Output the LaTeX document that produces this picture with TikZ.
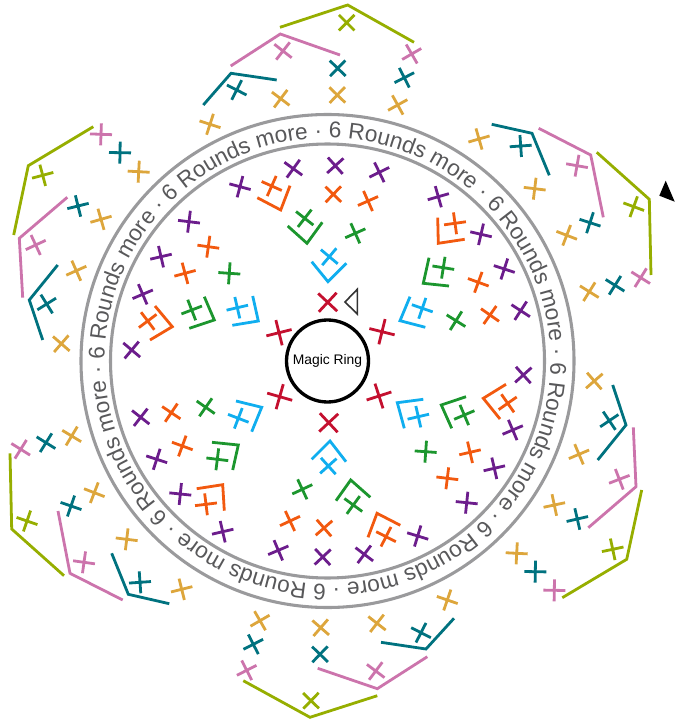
\documentclass[tikz,border=0pt]{standalone}
\usepackage{fontspec}
\usepackage{xcolor}
\usetikzlibrary{decorations.text}
\setmainfont{Liberation Sans}

\definecolor{cred}{HTML}{C4102F}
\definecolor{cblue}{HTML}{10AEEF}
\definecolor{cgreen}{HTML}{1C962E}
\definecolor{corange}{HTML}{F2590F}
\definecolor{cpurple}{HTML}{6C1D8C}
\definecolor{cgold}{HTML}{DDA63C}
\definecolor{cteal}{HTML}{00727F}
\definecolor{cpink}{HTML}{CC74AC}
\definecolor{clime}{HTML}{96AE00}
\definecolor{cring}{HTML}{9A9A9C}
\definecolor{ctext}{HTML}{58585A}

\tikzset{
  stitch/.style={line width=2.1pt},
  band/.style={line width=2.3pt, cring},
}

% x, y, angle of each cross
\newcommand{\crosses}[3]{%
  \foreach \x/\y/\a in {#3} {
    \draw[stitch,#1] (\x,\y) ++(\a:#2) -- ++(\a+180:2*#2)
      (\x,\y) ++(\a+90:#2) -- ++(\a-90:2*#2);
  }}
% corner lines
\newcommand{\corners}[2]{%
  \foreach \ax/\ay/\bx/\by/\cx/\cy in {#2} {
    \draw[stitch,#1] (\ax,\ay) -- (\bx,\by) -- (\cx,\cy);
  }}

\begin{document}
\begin{tikzpicture}[x=0.75pt,y=-0.75pt]
  \useasboundingbox (0,0) rectangle (680,720);

  \coordinate (C) at (327.5,361);
  \draw[band] (C) circle[radius=246.5];
  \draw[band] (C) circle[radius=217];
  \path[decorate, decoration={text along path, text color=ctext,
      text={|\fontsize{17pt}{20pt}\selectfont|6 Rounds more · 6 Rounds more · 6 Rounds more · 6 Rounds more · 6 Rounds more · 6 Rounds more · 6 Rounds more · 6 Rounds more · }}]
    (C) ++(-89.7:223) arc[start angle=-89.7, end angle=275, radius=223];

  \node[draw, circle, line width=2.5pt, minimum size=61.5pt, inner sep=0pt,
    font=\fontsize{10.4pt}{12pt}\selectfont] (ring) at (C) {Magic Ring};

  \draw[line width=1.2pt, black!80] (357.3,289.3) -- (345,302) -- (357.3,314) -- cycle;
  \fill (665.7,180.7) -- (659.3,195.7) -- (674.7,201.7) -- cycle;

  % round one
  \crosses{cred}{13}{327.7/302.3/43, 382/331.7/14, 379/396/-18,
    328.7/422.7/-43, 279.7/396.7/16, 279/332.7/-14}

  % round two
  \crosses{cblue}{11}{329.3/256.7/40, 422.3/308.3/19, 418.3/416.7/-13,
    328.3/466/-42, 238.3/418.3/21, 237.3/307.7/-13}
  \corners{cblue}{311.7/261.7/328/281.7/346.3/263.3,
    410/296.7/400/320.7/425.3/327.3,
    423.3/399.3/397.3/402.7/404.3/428.3,
    311.7/459.3/330/441/346/461.7,
    236/401/261.7/407.3/251.7/431.7,
    252.7/296/258.3/321/232.3/325.3}

  % round three
  \crosses{cgreen}{11}{304.7/218.3/38, 443.3/267.7/9, 464.3/415/-23,
    353.3/505/36, 217.3/459.3/7, 191.7/310/-21,
    355.3/233.3/-24, 456/320.7/32, 425.7/451.7/4,
    302.3/489.3/-25, 205.7/407.3/35, 229.3/273.3/4}
  \corners{cgreen}{287.7/226/307/243.3/322.3/222.3,
    429/257.7/423.3/283.3/449/286,
    466/396.7/441.3/405/451.7/428.3,
    336/500.7/350.7/480/370.3/497.3,
    212/442.3/238.3/445/232.7/470,
    204.3/296.7/214.3/320/189.3/328.3}

  % round four
  \crosses{corange}{11}{271.7/186/24, 455/223.3/-8, 507.7/403.3/-35,
    386/536.7/27, 206/504.3/-7, 147.7/321/-37,
    333.3/194.3/44, 368/201/-24, 478.3/282.3/20, 490/315/35,
    470/452.3/-13, 447.3/478.3/7, 290/521/-25, 324/528/-41,
    171.3/412.7/34, 182.3/446/20, 208.3/246.7/8, 185/273.3/-15}
  \corners{corange}{257.3/197.7/280.7/210/290/185.7,
    437.7/217.7/438.3/243.3/464.7/239.3,
    506/384.3/483.3/398.3/500/419,
    368/537.3/377/513.3/400.3/525.3,
    196.7/488.7/222.7/484.7/224.3/510.7,
    155/306/172.3/326.7/150/340}

  % round five
  \crosses{cpurple}{11}{293.3/168.7/36, 335.3/165.7/-42, 379.3/172.3/-26,
    438.3/196.7/-16, 481/234.3/13, 504.3/269/18, 520.7/310.7/33,
    523.3/375/-42, 512.7/430/-23, 494.3/468.3/-13, 466.7/502.7/6,
    417.7/536/17, 364.3/554.3/37, 322.7/557/-43, 278.3/550.3/-23,
    140.7/417.3/38, 156.7/459.3/18, 180.3/494/6, 222.7/531.7/-13,
    240/186.7/15, 189/221.7/7, 161/256.7/-13, 142.7/294.3/-23, 131.7/350/40}

  % outer rounds
  \crosses{cgold}{11}{479/139/-16, 534.7/188.7/7, 566.7/235.3/21, 589.3/291.7/32,
    397.7/105/-29, 337.3/95/44, 280.7/98.7/37, 210/124.3/18,
    594.3/381/-41, 579/454.3/-23, 554.3/505/-12, 516.7/553.3/3,
    447.3/600/19, 377/623.3/38, 320.7/627.7/41, 260/620.7/-30,
    71.7/436/31, 94.3/492.7/21, 126.7/539.3/7, 181.7/589.3/-14,
    138.7/171.7/3, 101/219.3/-16, 76.3/270.7/-24, 61.3/343.7/41}
  \crosses{cteal}{11}{520.7/146/-4, 590/222.7/18, 615/285.3/32,
    404.3/77.7/-27, 337.7/68.3/44, 236.7/90/27,
    609.3/420.7/-34, 577.3/519/-13, 535.3/571.7/1,
    421/632.7/27, 320/654.3/44, 253.3/644.3/-27,
    46/442.7/32, 71/506/19, 140/582.3/-4,
    120/152.7/1, 78/206/-14, 46.7/304/-32}
  \corners{cteal}{491.7/124.3/532/133.3/549.3/175.3,
    203.3/105/231/73.3/276.7/80,
    612.7/385/626/425/597.7/460,
    454/618.3/426/649/381/642.3,
    111.7/553.3/128.3/594.3/169.3/603.7,
    57.7/265/29.3/300/42.7/340}
  \crosses{cpink}{11}{577/165.7/10, 640.7/277.7/32,
    411.7/54/-30, 283/51/38,
    619.3/479.3/-21, 554.3/590.3/1,
    375.7/671/37, 246.7/670.3/-27,
    20.7/449.3/32, 84/562.3/8,
    101/134.3/2, 35.7/245/-25}
  \corners{cpink}{538.7/128.3/590.7/155/603.3/217.3,
    230.7/66/280.3/34/340/55,
    633.3/427.3/636/486.7/588.3/527.7,
    427.3/656.7/377.3/688.7/317.7/668.3,
    58/511/70/573.3/122.7/600,
    67.3/197.3/19.3/238.3/22.7/297.7}
  \crosses{clime}{11}{633.7/206.7/20, 346.7/22.7/45, 612.7/549.3/-12,
    311/700.7/44, 27/521/19, 42.7/175.3/-15}
  \corners{clime}{596.7/152.3/649.3/199.3/651/275,
    280/27.3/347.7/5/414/42.3,
    641.7/490/626.7/559.3/562.3/597.7,
    377.3/695.7/310/717.3/243.3/680.7,
    10/453.3/11.7/529/64/575.7,
    93.3/126.7/28.3/165.7/13.7/235}
\end{tikzpicture}
\end{document}
